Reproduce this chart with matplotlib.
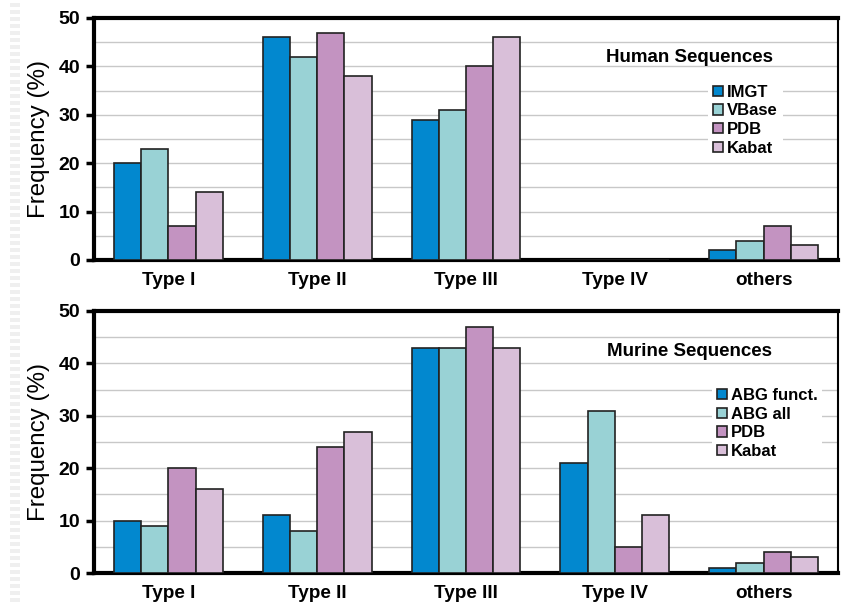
import matplotlib
matplotlib.use("Agg")
import matplotlib.pyplot as plt
from matplotlib.patches import Patch
from matplotlib.lines import Line2D
import numpy as np

plt.rcParams['font.family'] = ['Liberation Sans', 'DejaVu Sans']

categories = ["Type I", "Type II", "Type III", "Type IV", "others"]

human_labels = ["IMGT", "VBase", "PDB", "Kabat"]
human_imgt = [20, 46, 29, 0, 2]
human_vbase = [23, 42, 31, 0, 4]
human_pdb = [7, 47, 40, 0, 7]
human_kabat = [14, 38, 46, 0, 3]

murine_labels = ["ABG funct.", "ABG all", "PDB", "Kabat"]
murine_abg_funct = [10, 11, 43, 21, 1]
murine_abg_all = [9, 8, 43, 31, 2]
murine_pdb = [20, 24, 47, 5, 4]
murine_kabat = [16, 27, 43, 11, 3]

colors = ["#0288CF", "#99D2D5", "#C393C1", "#D9BFD9"]

fig = plt.figure(figsize=(8.43, 6.02), dpi=100)
W, H = 843, 602

# faint dashed strip at the left edge
fig.add_artist(Line2D([15 / W, 15 / W], [0, 1], lw=7.2, color='#efefef',
                      dashes=(0.4, 0.3), transform=fig.transFigure))

def make_ax(top_px, bottom_px):
    left, right = 94, 838
    return fig.add_axes([left / W, 1 - bottom_px / H, (right - left) / W, (bottom_px - top_px) / H])

ax1 = make_ax(18, 260)
ax2 = make_ax(311, 573)

def draw(ax, series, labels, title, title_y, leg_x, leg_y):
    x = np.arange(len(categories))
    w = 0.183
    offsets = (np.arange(4) - 1.5) * w
    for s, off, c in zip(series, offsets, colors):
        ax.bar(x + off, s, width=w, color=c, edgecolor="#222222", linewidth=1.2, zorder=3)
    ax.set_xlim(-0.5, 4.5)
    ax.set_ylim(0, 50)
    ax.set_yticks([0, 10, 20, 30, 40, 50])
    ax.set_yticks([5, 15, 25, 35, 45], minor=True)
    ax.grid(axis='y', which='both', color="#c8c8c8", linewidth=1.0, zorder=0)
    ax.set_axisbelow(True)
    ax.set_xticks(x)
    ax.set_xticklabels(categories, fontsize=13.6, fontweight='bold')
    ax.tick_params(axis='x', length=0, pad=9)
    ax.tick_params(axis='y', which='major', length=6, width=2.5, direction='out',
                   labelsize=14, pad=4)
    for lab in ax.get_yticklabels():
        lab.set_fontweight('bold')
    ax.tick_params(axis='y', which='minor', length=0)
    ax.spines['left'].set_linewidth(3)
    ax.spines['bottom'].set_linewidth(3)
    ax.spines['top'].set_linewidth(3)
    ax.spines['right'].set_linewidth(1.5)
    ax.set_ylabel("Frequency (%)", fontsize=17.4, labelpad=6)
    ax.text(3.505, title_y, title, fontsize=13.5, fontweight='bold', ha='center', va='center',
            zorder=6)
    handles = [Patch(facecolor=c, edgecolor="#222222", linewidth=1.2) for c in colors]
    leg = ax.legend(handles, labels, loc='upper left', bbox_to_anchor=(leg_x, leg_y),
                    frameon=True, framealpha=1, edgecolor='none', facecolor='white',
                    prop={'weight': 'bold', 'size': 12}, handlelength=0.6, handleheight=0.6,
                    handletextpad=0.25, labelspacing=0.22, borderpad=0.3, borderaxespad=0)
    leg.set_zorder(5)

draw(ax1, [human_imgt, human_vbase, human_pdb, human_kabat], human_labels,
     "Human Sequences", 41.9, 0.825, 0.745)
draw(ax2, [murine_abg_funct, murine_abg_all, murine_pdb, murine_kabat], murine_labels,
     "Murine Sequences", 42.2, 0.83, 0.725)

fig.savefig("out.png", dpi=100, facecolor='white')
